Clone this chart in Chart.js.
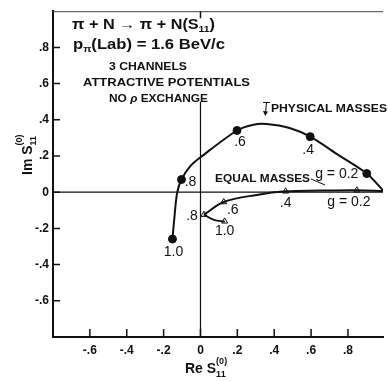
<!DOCTYPE html>
<html><head><meta charset="utf-8">
<script src="https://cdn.jsdelivr.net/npm/chart.js@4.4.1/dist/chart.umd.min.js"></script>
<style>html,body{margin:0;padding:0;background:#fff;overflow:hidden}canvas{display:block}</style>
</head><body>
<canvas id="c" width="388" height="381"></canvas>
<script>
// ---- data ----
const xTickValues = [-0.6, -0.4, -0.2, 0, 0.2, 0.4, 0.6, 0.8];
const yTickValues = [-0.6, -0.4, -0.2, 0, 0.2, 0.4, 0.6, 0.8];

const physicalCurveX = [0.99, 0.902, 0.749, 0.595, 0.483, 0.358, 0.287, 0.198, 0.0, -0.052, -0.103, -0.127, -0.144, -0.152];
const physicalCurveY = [0.01, 0.103, 0.205, 0.307, 0.355, 0.377, 0.373, 0.341, 0.193, 0.148, 0.070, -0.005, -0.168, -0.259];
const physicalG = [0.2, 0.4, 0.6, 0.8, 1.0];
const physicalX = [0.902, 0.595, 0.198, -0.103, -0.152];
const physicalY = [0.103, 0.307, 0.341, 0.070, -0.259];
const physicalLabels = ['g = 0.2', '.4', '.6', '.8', '1.0'];

const equalCurveX = [0.99, 0.848, 0.65, 0.462, 0.305, 0.126, 0.019];
const equalCurveY = [0.006, 0.011, 0.009, 0.005, -0.015, -0.054, -0.124];
const equalHookX = [0.019, 0.073, 0.132];
const equalHookY = [-0.124, -0.153, -0.162];
const equalG = [0.2, 0.4, 0.6, 0.8, 1.0];
const equalX = [0.848, 0.462, 0.126, 0.019, 0.131];
const equalY = [0.011, 0.005, -0.054, -0.124, -0.161];
const equalLabels = ['g = 0.2', '.4', '.6', '.8', '1.0'];

// ---- helpers ----
const pts = (xs, ys) => xs.map((x, i) => ({x: x, y: ys[i]}));
const fmt = v => Math.abs(v) < 1e-9 ? '0' : v.toFixed(1).replace('0.', '.');
const FF = '"Liberation Sans", Arial, sans-serif';
const INK = '#111';

// label offsets (pixels) relative to each marker
const physicalOffsets = [[-30, 1], [-2, 14], [3, 12], [9, 3], [1, 13]];
const equalOffsets = [[-8, 12], [0, 12], [9, 8], [-12, 1], [0, 10]];

function drawParts(ctx, parts, x, y, width, rotate) {
  ctx.save();
  let total = 0;
  parts.forEach(p => { ctx.font = p.font; p.w = ctx.measureText(p.t).width; if (!p.stack) total += p.w; });
  ctx.translate(x, y);
  if (rotate) ctx.rotate(-Math.PI / 2);
  if (width) ctx.scale(width / total, 1);
  ctx.fillStyle = INK;
  ctx.textBaseline = 'alphabetic';
  ctx.textAlign = 'left';
  let cx = 0;
  parts.forEach(p => {
    ctx.font = p.font;
    ctx.fillText(p.t, cx, p.dy || 0);
    if (!p.stack) cx += p.w;
  });
  ctx.restore();
}

const decor = {
  id: 'decor',
  afterDraw(chart) {
    const ctx = chart.ctx, a = chart.chartArea;
    const xs = chart.scales.x, ys = chart.scales.y;
    ctx.save();
    // top frame
    ctx.strokeStyle = '#444'; ctx.lineWidth = 1;
    ctx.beginPath(); ctx.moveTo(a.left, a.top + 0.5); ctx.lineTo(a.right, a.top + 0.5); ctx.stroke();
    // inward ticks
    ctx.strokeStyle = INK; ctx.lineWidth = 1.5;
    ctx.beginPath();
    yTickValues.forEach(v => { const p = ys.getPixelForValue(v); ctx.moveTo(a.left, p); ctx.lineTo(a.left + 7, p); });
    xTickValues.forEach(v => { const p = xs.getPixelForValue(v); ctx.moveTo(p, a.bottom); ctx.lineTo(p, a.bottom - 8); });
    const p0 = xs.getPixelForValue(0); ctx.moveTo(p0, a.top); ctx.lineTo(p0, a.top + 7);
    ctx.stroke();

    // point labels
    ctx.fillStyle = INK; ctx.textAlign = 'center'; ctx.textBaseline = 'middle';
    ctx.font = '14px ' + FF;
    const labelSet = (xv, yv, labels, offs) => {
      xv.forEach((x, i) => {
        const px = xs.getPixelForValue(x), py = ys.getPixelForValue(yv[i]);
        ctx.fillText(labels[i], px + offs[i][0], py + offs[i][1]);
      });
    };
    labelSet(physicalX, physicalY, physicalLabels, physicalOffsets);
    labelSet(equalX, equalY, equalLabels, equalOffsets);
    ctx.restore();

    // text block
    const B14 = 'bold 14px ' + FF, B9 = 'bold 9px ' + FF, B11 = 'bold 11px ' + FF;
    drawParts(ctx, [{t: 'π + N → π + N(S', font: B14}, {t: '11', font: B9, dy: 3}, {t: ')', font: B14}], 72, 28.5, 143);
    drawParts(ctx, [{t: 'p', font: B14}, {t: 'π', font: B9, dy: 3}, {t: '(Lab) = 1.6 BeV/c', font: B14}], 73, 48.5, 152);
    drawParts(ctx, [{t: '3 CHANNELS', font: B11}], 109, 70, 78);
    drawParts(ctx, [{t: 'ATTRACTIVE POTENTIALS', font: B11}], 83, 86, 167);
    drawParts(ctx, [{t: 'NO ', font: B11}, {t: 'ρ', font: 'bold italic 11px ' + FF}, {t: ' EXCHANGE', font: B11}], 109, 102, 99);
    drawParts(ctx, [{t: 'PHYSICAL MASSES', font: B11}], 271, 112, 116);
    drawParts(ctx, [{t: 'EQUAL MASSES', font: B11}], 215, 182, 95);

    // axis titles
    drawParts(ctx, [{t: 'Re S', font: B14}, {t: '(0)', font: B9, dy: -9, stack: true}, {t: '11', font: B9, dy: 4}], 185, 373, 0);
    drawParts(ctx, [{t: 'Im S', font: B14}, {t: '(0)', font: B9, dy: -10, stack: true}, {t: '11', font: B9, dy: 4}], 32, 175, 0, true);

    // leader arrows
    ctx.save();
    ctx.strokeStyle = INK; ctx.fillStyle = INK; ctx.lineWidth = 1;
    ctx.beginPath();
    ctx.moveTo(263, 102.5); ctx.lineTo(270, 102.5);
    ctx.moveTo(266.5, 102.5); ctx.lineTo(265.5, 113);
    ctx.moveTo(311, 179); ctx.lineTo(325, 185);
    ctx.stroke();
    ctx.beginPath(); ctx.moveTo(265.2, 116); ctx.lineTo(263, 111); ctx.lineTo(268, 111.5); ctx.closePath(); ctx.fill();
    ctx.restore();
  }
};

const lineDs = (data, w, t) => ({data: data, showLine: true, borderColor: INK, borderWidth: w, pointRadius: 0, tension: t, fill: false});

new Chart(document.getElementById('c'), {
  type: 'scatter',
  data: {
    datasets: [
      {data: [{x: -0.8, y: 0}, {x: 0.99, y: 0}], showLine: true, borderColor: INK, borderWidth: 1.2, pointRadius: 0, tension: 0},
      {data: [{x: 0, y: -0.8}, {x: 0, y: 0.5}], showLine: true, borderColor: INK, borderWidth: 1.2, pointRadius: 0, tension: 0},
      lineDs(pts(physicalCurveX, physicalCurveY), 2, 0.3),
      lineDs(pts(equalCurveX, equalCurveY), 2, 0.35),
      lineDs(pts(equalHookX, equalHookY), 1.8, 0.4),
      {data: pts(physicalX, physicalY), pointRadius: 4, pointBackgroundColor: INK, pointBorderColor: INK, showLine: false},
      {data: pts(equalX, equalY), pointStyle: 'triangle', pointRadius: 3.5, pointBackgroundColor: '#fff', pointBorderColor: INK, pointBorderWidth: 1, showLine: false}
    ]
  },
  options: {
    responsive: false, animation: false, devicePixelRatio: 1,
    layout: {padding: {top: 4, right: 0, left: 0, bottom: 0}},
    plugins: {legend: {display: false}, tooltip: {enabled: false}},
    scales: {
      x: {
        type: 'linear', min: -0.8, max: 0.99,
        afterBuildTicks: s => { s.ticks = xTickValues.map(v => ({value: v})); },
        afterFit: s => { s.height = 44; },
        grid: {display: false, drawTicks: false},
        border: {display: true, color: INK, width: 2},
        ticks: {color: INK, font: {family: FF, size: 12, weight: 'bold'}, padding: 6, maxRotation: 0, autoSkip: false, callback: v => fmt(v)}
      },
      y: {
        type: 'linear', min: -0.8, max: 1.0,
        afterBuildTicks: s => { s.ticks = yTickValues.map(v => ({value: v})); },
        afterFit: s => { s.width = 53; },
        grid: {display: false, drawTicks: false},
        border: {display: true, color: INK, width: 2},
        ticks: {color: INK, font: {family: FF, size: 12, weight: 'bold'}, padding: 4, autoSkip: false, callback: v => fmt(v)}
      }
    }
  },
  plugins: [decor]
});
</script>
</body></html>
